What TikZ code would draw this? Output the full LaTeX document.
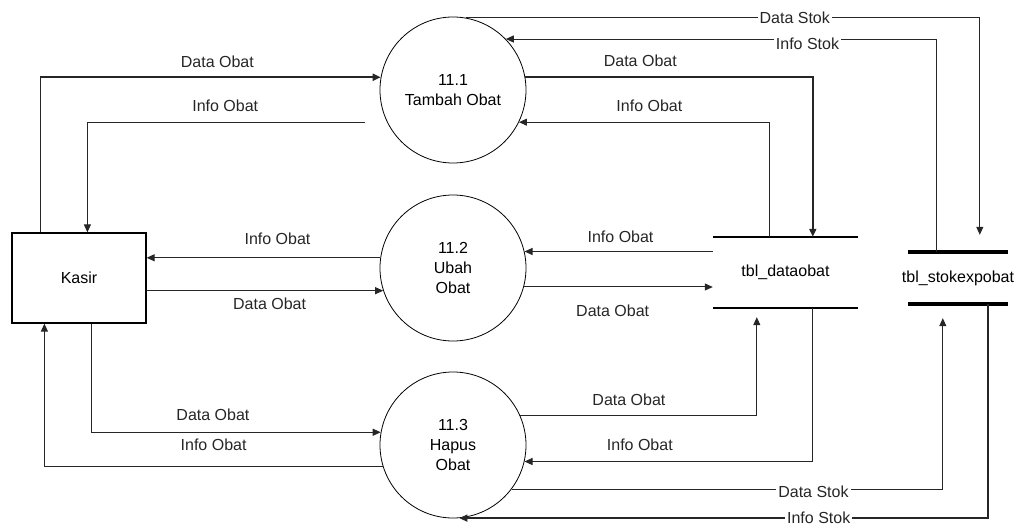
\documentclass[tikz,border=0pt]{standalone}
\usepackage{fontspec}
\setmainfont{Liberation Sans}
\usetikzlibrary{arrows.meta,calc}
\begin{document}
\begin{tikzpicture}[x=1pt,y=-1pt,
  font=\fontsize{16}{20}\selectfont,
  flow/.style={draw=black!85, line width=1pt, -{Triangle[length=8pt,width=7pt]}},
  bold/.style={line width=1.7pt},
  proc/.style={circle, draw, line width=0.8pt, minimum size=146pt, inner sep=0pt, align=center},
  lbl/.style={inner sep=1pt, text=black!85},
  inl/.style={lbl, fill=white, inner sep=2pt},
  store/.style={inner sep=0pt}
]
\useasboundingbox (0,0) rectangle (1034,532);

\node[draw, line width=1.2pt, minimum width=134pt, minimum height=90pt] (kasir) at (79,278) {Kasir};
\node[proc] (c1) at (453,90) {11.1\\Tambah Obat};
\node[proc] (c2) at (453,268) {11.2\\Ubah\\Obat};
\node[proc] (c3) at (453,445) {11.3\\Hapus\\Obat};
\node[store, minimum width=145pt, minimum height=71pt, label={center:tbl\_dataobat}] (d1) at (785.5,272.5) {};
\draw[line width=1.6pt] (d1.north west) -- (d1.north east) (d1.south west) -- (d1.south east);
\node[store, minimum width=100pt, minimum height=52pt, label={center:tbl\_stokexpobat}] (s1) at (958,278) {};
\draw[line width=3.5pt] (s1.north west) -- (s1.north east) (s1.south west) -- (s1.south east);

% Kasir <-> 11.1
\draw[flow,bold] ($(kasir.north west)+(29,0)$) |- node[lbl,pos=0.76,above=7.5pt]{Data Obat} (c1.170);
\draw[flow,shorten <=22pt] (c1.206) -| node[lbl,pos=0.27,above=8.6pt]{Info Obat} ($(kasir.north west)+(76,0)$);
% Kasir <-> 11.2
\draw[flow] (c2.172) -- node[lbl,pos=0.44,above=11.6pt]{Info Obat} (c2.172 -| kasir.east);
\draw[flow] (kasir.east |- c2.198) -- node[lbl,pos=0.52,below=5.6pt]{Data Obat} (c2.198);
% Kasir <-> 11.3
\draw[flow] ($(kasir.south west)+(80,0)$) |- node[lbl,pos=0.71,above=10.6pt]{Data Obat} (c3.170);
\draw[flow] (c3.197) -| node[lbl,pos=0.25,above=14.6pt]{Info Obat} ($(kasir.south west)+(33,0)$);

% 11.1 <-> stores
\draw[flow,bold] (c1.10) -| node[lbl,pos=0.2,above=8.6pt]{Data Obat} ($(d1.north west)+(100,0)$);
\draw[flow] ($(d1.north west)+(57,0)$) |- node[lbl,pos=0.74,above=8.6pt]{Info Obat} (c1.334);
\draw[flow] (c1.80) -| node[inl,pos=0.32]{Data Stok} ($(s1.north west)+(72,-17)$);
\draw[flow] ($(s1.north west)+(29,0)$) |- node[inl,pos=0.65,yshift=-5pt]{Info Stok} (c1.44);

% 11.2 <-> tbl_dataobat
\draw[flow] (c2.345) -- node[lbl,pos=0.47,below=16.6pt]{Data Obat} (c2.345 -| d1.west);
\draw[flow] (c2.13 -| d1.west) -- node[lbl,pos=0.49,above=7.6pt]{Info Obat} (c2.13);

% 11.3 <-> stores
\draw[flow] (c3.24) -| node[lbl,pos=0.23,above=7.6pt]{Data Obat} ($(d1.south west)+(44,9)$);
\draw[flow] ($(d1.south west)+(100,0)$) |- node[lbl,pos=0.8,above=9.6pt]{Info Obat} (c3.347);
\draw[flow] (c3.323) -| node[inl,pos=0.35,yshift=-3pt]{Data Stok} ($(s1.south west)+(35,14)$);
\draw[flow,bold] ($(s1.south west)+(80,0)$) |- node[inl,pos=0.66]{Info Stok} (c3.275);
\end{tikzpicture}
\end{document}
